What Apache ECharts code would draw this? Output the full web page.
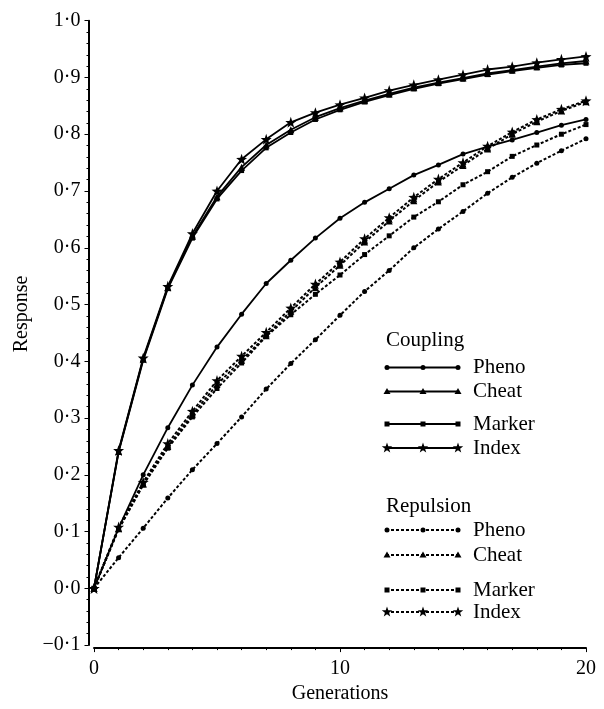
<!DOCTYPE html>
<html>
<head>
<meta charset="utf-8">
<script src="https://cdn.jsdelivr.net/npm/echarts@6/dist/echarts.min.js"></script>
<style>html,body{margin:0;padding:0;background:#fff}#c{width:604px;height:709px}</style>
</head>
<body>
<div id="c"></div>
<script>
const generations = [0,1,2,3,4,5,6,7,8,9,10,11,12,13,14,15,16,17,18,19,20];
const couplingPheno  = [0,0.106,0.200,0.283,0.358,0.425,0.483,0.537,0.578,0.617,0.652,0.680,0.704,0.728,0.746,0.765,0.778,0.790,0.803,0.816,0.826];
const couplingCheat  = [0,0.241,0.404,0.530,0.620,0.690,0.742,0.781,0.808,0.830,0.846,0.859,0.871,0.882,0.891,0.899,0.907,0.913,0.919,0.925,0.929];
const couplingMarker = [0,0.240,0.402,0.528,0.617,0.686,0.736,0.776,0.803,0.826,0.843,0.857,0.869,0.880,0.889,0.897,0.905,0.911,0.917,0.922,0.925];
const couplingIndex  = [0,0.243,0.406,0.532,0.625,0.700,0.756,0.791,0.821,0.838,0.852,0.864,0.877,0.887,0.896,0.905,0.914,0.919,0.926,0.932,0.937];
const repulsionPheno  = [0,0.054,0.106,0.159,0.209,0.255,0.302,0.351,0.396,0.438,0.481,0.523,0.560,0.600,0.633,0.664,0.696,0.724,0.749,0.771,0.792];
const repulsionCheat  = [0,0.105,0.184,0.250,0.306,0.359,0.402,0.445,0.488,0.530,0.569,0.610,0.647,0.683,0.716,0.745,0.774,0.800,0.822,0.841,0.857];
const repulsionMarker = [0,0.104,0.182,0.247,0.302,0.352,0.397,0.444,0.482,0.518,0.552,0.588,0.621,0.654,0.681,0.711,0.734,0.761,0.781,0.800,0.817];
const repulsionIndex  = [0,0.108,0.187,0.255,0.312,0.366,0.409,0.451,0.494,0.536,0.575,0.616,0.653,0.689,0.721,0.750,0.779,0.804,0.826,0.844,0.859];
const groupTitles = ['Coupling', 'Repulsion'];
const methodNames = ['Pheno', 'Cheat', 'Marker', 'Index'];
const xTicks = [0, 10, 20];

const FONT = '"Liberation Serif", "DejaVu Serif", serif';
const STAR = 'path://M0,-10L2.35,-3.24L9.51,-3.09L3.8,1.24L5.88,8.09L0,4L-5.88,8.09L-3.8,1.24L-9.51,-3.09L-2.35,-3.24Z';
const symbols = ['circle', 'triangle', 'rect', STAR];
const symSizes = [5, 7, 5, 11];
const dashed = [3, 2];

const groups = [
  [couplingPheno, couplingCheat, couplingMarker, couplingIndex],
  [repulsionPheno, repulsionCheat, repulsionMarker, repulsionIndex]
];

const series = [];
groups.forEach((g, gi) => {
  g.forEach((vals, mi) => {
    series.push({
      name: groupTitles[gi] + ' ' + methodNames[mi],
      type: 'line',
      data: generations.map((x, i) => [x, vals[i]]),
      symbol: symbols[mi],
      symbolSize: symSizes[mi],
      showAllSymbol: true,
      clip: false,
      itemStyle: { color: '#000' },
      lineStyle: { color: '#000', width: gi === 0 ? 1.8 : 2, type: gi === 0 ? 'solid' : dashed },
      emphasis: { disabled: true },
      animation: false,
      z: gi === 0 ? 3 : 2
    });
  });
});

// legend drawn as graphic
function starPoints(cx, cy, r) {
  const pts = [];
  for (let k = 0; k < 10; k++) {
    const rr = k % 2 === 0 ? r : r * 0.4;
    const a = -Math.PI / 2 + k * Math.PI / 5;
    pts.push([cx + rr * Math.cos(a), cy + rr * Math.sin(a)]);
  }
  return pts;
}
function markerEl(mi, cx, cy) {
  const st = { fill: '#000' };
  if (mi === 0) return { type: 'circle', shape: { cx, cy, r: 2.5 }, style: st };
  if (mi === 1) return { type: 'polygon', shape: { points: [[cx, cy - 3.5], [cx + 3.5, cy + 2.5], [cx - 3.5, cy + 2.5]] }, style: st };
  if (mi === 2) return { type: 'rect', shape: { x: cx - 2.5, y: cy - 2.5, width: 5, height: 5 }, style: st };
  return { type: 'polygon', shape: { points: starPoints(cx, cy, 5.5) }, style: st };
}
const legendLayout = [
  { title: 340, rows: [367.5, 391.5, 424, 448] },
  { title: 506, rows: [530, 555, 590, 612] }
];
const graphics = [];
legendLayout.forEach((lg, gi) => {
  graphics.push({ type: 'text', x: 386, y: lg.title, style: { text: groupTitles[gi], font: '21px ' + FONT, fill: '#000', verticalAlign: 'middle', textAlign: 'left' } });
  lg.rows.forEach((ry, mi) => {
    graphics.push({ type: 'line', shape: { x1: 386, y1: ry, x2: 459, y2: ry }, style: { stroke: '#000', lineWidth: gi === 0 ? 1.8 : 2, lineDash: gi === 0 ? null : dashed } });
    [387, 423, 458].forEach(mx => graphics.push(markerEl(mi, mx, ry)));
    graphics.push({ type: 'text', x: 473, y: ry, style: { text: methodNames[mi], font: '21px ' + FONT, fill: '#000', verticalAlign: 'middle', textAlign: 'left' } });
  });
});

const fmt = v => (v < -1e-9 ? '\u2212' : '') + Math.abs(v).toFixed(1).replace('.', '\u00b7');

const chart = echarts.init(document.getElementById('c'), null, { renderer: 'canvas' });
chart.setOption({
  animation: false,
  backgroundColor: '#fff',
  textStyle: { fontFamily: FONT },
  grid: { left: 94, right: 18, top: 20.7, bottom: 60, containLabel: false },
  xAxis: {
    type: 'value', min: 0, max: 20, interval: 10, offset: 3,
    name: 'Generations', nameLocation: 'middle', nameGap: 26,
    nameTextStyle: { fontFamily: FONT, fontSize: 20, color: '#000' },
    axisLine: { show: true, onZero: false, lineStyle: { color: '#000', width: 2 } },
    axisTick: { show: true, inside: false, length: 4, lineStyle: { color: '#000', width: 1 } },
    minorTick: { show: true, splitNumber: 10, length: 2, lineStyle: { color: '#000', width: 1 } },
    axisLabel: { margin: 11, fontFamily: FONT, fontSize: 20, color: '#000', customValues: xTicks, formatter: v => String(v) },
    splitLine: { show: false }
  },
  yAxis: {
    type: 'value', min: -0.1, max: 1.0, interval: 0.1, offset: 5.5,
    name: 'Response', nameLocation: 'middle', nameGap: 46, nameRotate: 90,
    nameTextStyle: { fontFamily: FONT, fontSize: 20, color: '#000', padding: [0, 0, 0, 38] },
    axisLine: { show: true, onZero: false, lineStyle: { color: '#000', width: 2 } },
    axisTick: { show: true, inside: false, length: 4, lineStyle: { color: '#000', width: 1 } },
    minorTick: { show: true, splitNumber: 5, length: 2, lineStyle: { color: '#000', width: 1 } },
    axisLabel: { margin: 8, fontFamily: FONT, fontSize: 20, color: '#000', formatter: fmt },
    splitLine: { show: false }
  },
  series: series,
  graphic: graphics
});
</script>
</body>
</html>
